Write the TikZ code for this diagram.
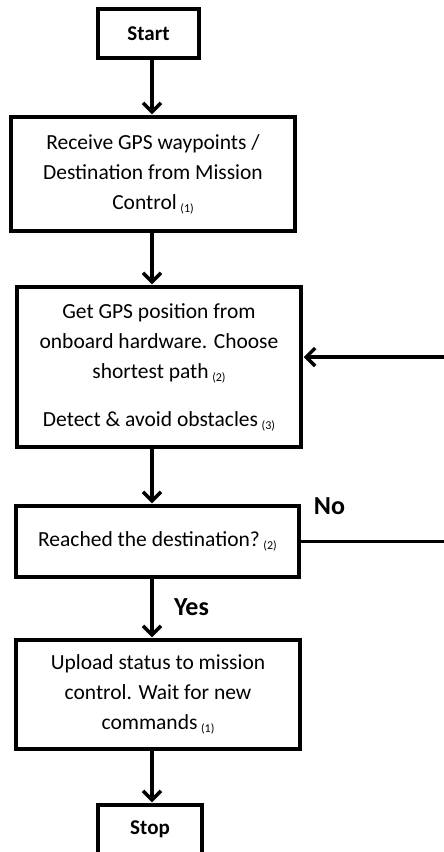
\documentclass[tikz,border=0pt]{standalone}
\usepackage{fontspec}
\setmainfont{Carlito}
\usetikzlibrary{arrows.meta}
\newcommand{\refnum}[1]{\,{\fontsize{12}{12}\selectfont\raisebox{-3pt}{(#1)}}}
\begin{document}
\begin{tikzpicture}[x=1pt,y=-1pt,
  box/.style={draw, line width=3.5pt, align=center, inner sep=0pt, font=\fontsize{21.5}{30}\selectfont},
  term/.style={box, font=\fontsize{21}{24}\selectfont\bfseries, minimum width=101pt, minimum height=49pt},
  proc/.style={box, minimum width=284pt},
  arr/.style={line width=3.5pt, -{Straight Barb[length=9pt,width=18pt,line width=3.5pt]}, shorten >=1pt},
  lbl/.style={font=\fontsize{26}{30}\selectfont\bfseries, inner sep=0pt}]
\clip (0,0) rectangle (444,852);
\fill[white] (0,0) rectangle (444,852);
\node[term] (start) at (148.5,33.5) {Start};
\node[proc, minimum height=114pt] (recv) at (153,174)
  {Receive GPS waypoints /\\Destination from Mission\\Control\refnum{1}};
\node[proc, minimum height=160pt] (get) at (159,367)
  {Get GPS position from\\onboard hardware. Choose\\shortest path\refnum{2}\\[18pt]Detect \& avoid obstacles\refnum{3}};
\node[proc, minimum width=283pt, minimum height=71pt] (dec) at (157.5,541.5)
  {Reached the destination?\refnum{2}};
\node[proc, minimum height=109pt] (upl) at (158,694.5)
  {Upload status to mission\\control. Wait for new\\commands\refnum{1}};
\node[term, minimum width=104pt] (stop) at (150,829.5) {Stop};
\coordinate (ax) at (152,0);
\coordinate (lp) at (470,357);
\draw[arr] (start.south -| ax) -- (recv.north -| ax);
\draw[arr] (recv.south -| ax) -- (get.north -| ax);
\draw[arr] (get.south -| ax) -- (dec.north -| ax);
\draw[arr] (dec.south -| ax) -- (upl.north -| ax);
\draw[arr] (upl.south -| ax) -- (stop.north -| ax);
\draw[arr] (dec.east) -- (dec.east -| lp) -- (lp) -- (lp -| get.east);
\node[lbl] (yes) at (191.5,607.5) {Yes};
\node[lbl] (no) at (329.5,506.5) {No};
\end{tikzpicture}
\end{document}
